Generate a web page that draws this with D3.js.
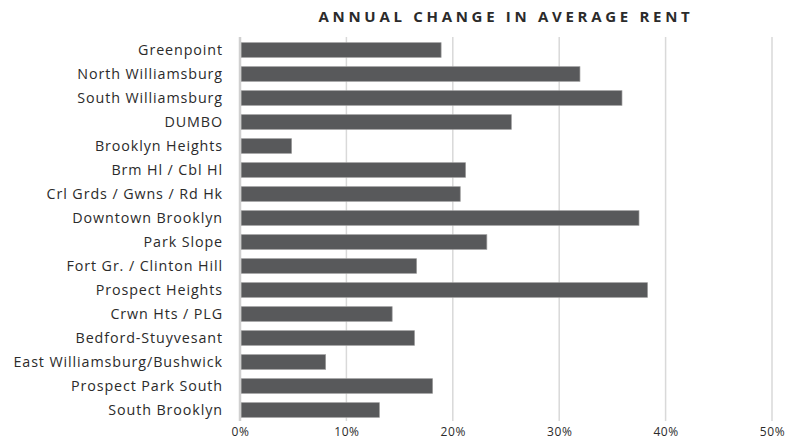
<!DOCTYPE html>
<html>
<head>
<meta charset="utf-8">
<script src="https://cdn.jsdelivr.net/npm/d3@7"></script>
<style>
  body { margin: 0; background: #fff; }
  text { font-family: "Open Sans", sans-serif; fill: #2b2b2b; }
</style>
</head>
<body>
<script>
// Size of the picture
var width = 799;
var height = 442;

// Data
var neighborhoods = ["Greenpoint", "North Williamsburg", "South Williamsburg", "DUMBO",
  "Brooklyn Heights", "Brm Hl / Cbl Hl", "Crl Grds / Gwns / Rd Hk", "Downtown Brooklyn",
  "Park Slope", "Fort Gr. / Clinton Hill", "Prospect Heights", "Crwn Hts / PLG",
  "Bedford-Stuyvesant", "East Williamsburg/Bushwick", "Prospect Park South", "South Brooklyn"];
var rentChange = [18.9, 31.95, 35.9, 25.5, 4.85, 21.2, 20.7, 37.5,
  23.2, 16.6, 38.3, 14.3, 16.4, 8.05, 18.1, 13.1];
var tickValues = [0, 10, 20, 30, 40, 50];

var data = neighborhoods.map(function (d, i) { return {name: d, value: rentChange[i]}; });

var svg = d3.select("body").append("svg")
  .attr("width", width)
  .attr("height", height);

// scales
var x = d3.scaleLinear().domain([0, 50]).range([240, 772]);
var y = d3.scaleBand().domain(neighborhoods).range([38, 422])
  .paddingInner(0.39).paddingOuter(0.195);

// gridlines
svg.append("g").selectAll("line")
  .data(tickValues.slice(1))
  .enter().append("line")
  .attr("x1", function (d) { return x(d); })
  .attr("x2", function (d) { return x(d); })
  .attr("y1", 37)
  .attr("y2", 421)
  .attr("stroke", "#d9d9d9")
  .attr("stroke-width", 1.5);

// bars
svg.append("g").selectAll("rect")
  .data(data)
  .enter().append("rect")
  .attr("x", x(0) + 1)
  .attr("y", function (d) { return y(d.name); })
  .attr("width", function (d) { return x(d.value) - x(0) - 1; })
  .attr("height", y.bandwidth())
  .attr("fill", "#58595b")
  .attr("stroke", "#9a9a9a")
  .attr("stroke-width", 0.7);

// zero line
svg.append("line")
  .attr("x1", x(0)).attr("x2", x(0))
  .attr("y1", 37).attr("y2", 421)
  .attr("stroke", "#d0d0d0")
  .attr("stroke-width", 2.5);

// category labels (letter-spacing widens Open Sans towards the original font)
svg.append("g")
  .attr("transform", "translate(223,0)")
  .call(d3.axisLeft(y).tickSize(0).tickPadding(0))
  .call(function (g) { g.select(".domain").remove(); })
  .selectAll("text")
  .attr("font-size", "14.3px")
  .attr("letter-spacing", "0.9px")
  .attr("font-family", "'Open Sans', sans-serif")
  .attr("fill", "#2b2b2b");

// bottom axis labels
svg.append("g")
  .attr("transform", "translate(0,424)")
  .call(d3.axisBottom(x).tickValues(tickValues).tickSize(0).tickPadding(3)
    .tickFormat(function (d) { return d + "%"; }))
  .call(function (g) { g.select(".domain").remove(); })
  .selectAll("text")
  .attr("font-size", "12px")
  .attr("letter-spacing", "0.6px")
  .attr("font-family", "'Open Sans', sans-serif")
  .attr("fill", "#2b2b2b");

// title
svg.append("text")
  .attr("x", 506)
  .attr("y", 22)
  .attr("text-anchor", "middle")
  .attr("font-size", "15px")
  .attr("font-weight", "bold")
  .attr("letter-spacing", "3.7px")
  .text("ANNUAL CHANGE IN AVERAGE RENT");
</script>
</body>
</html>
